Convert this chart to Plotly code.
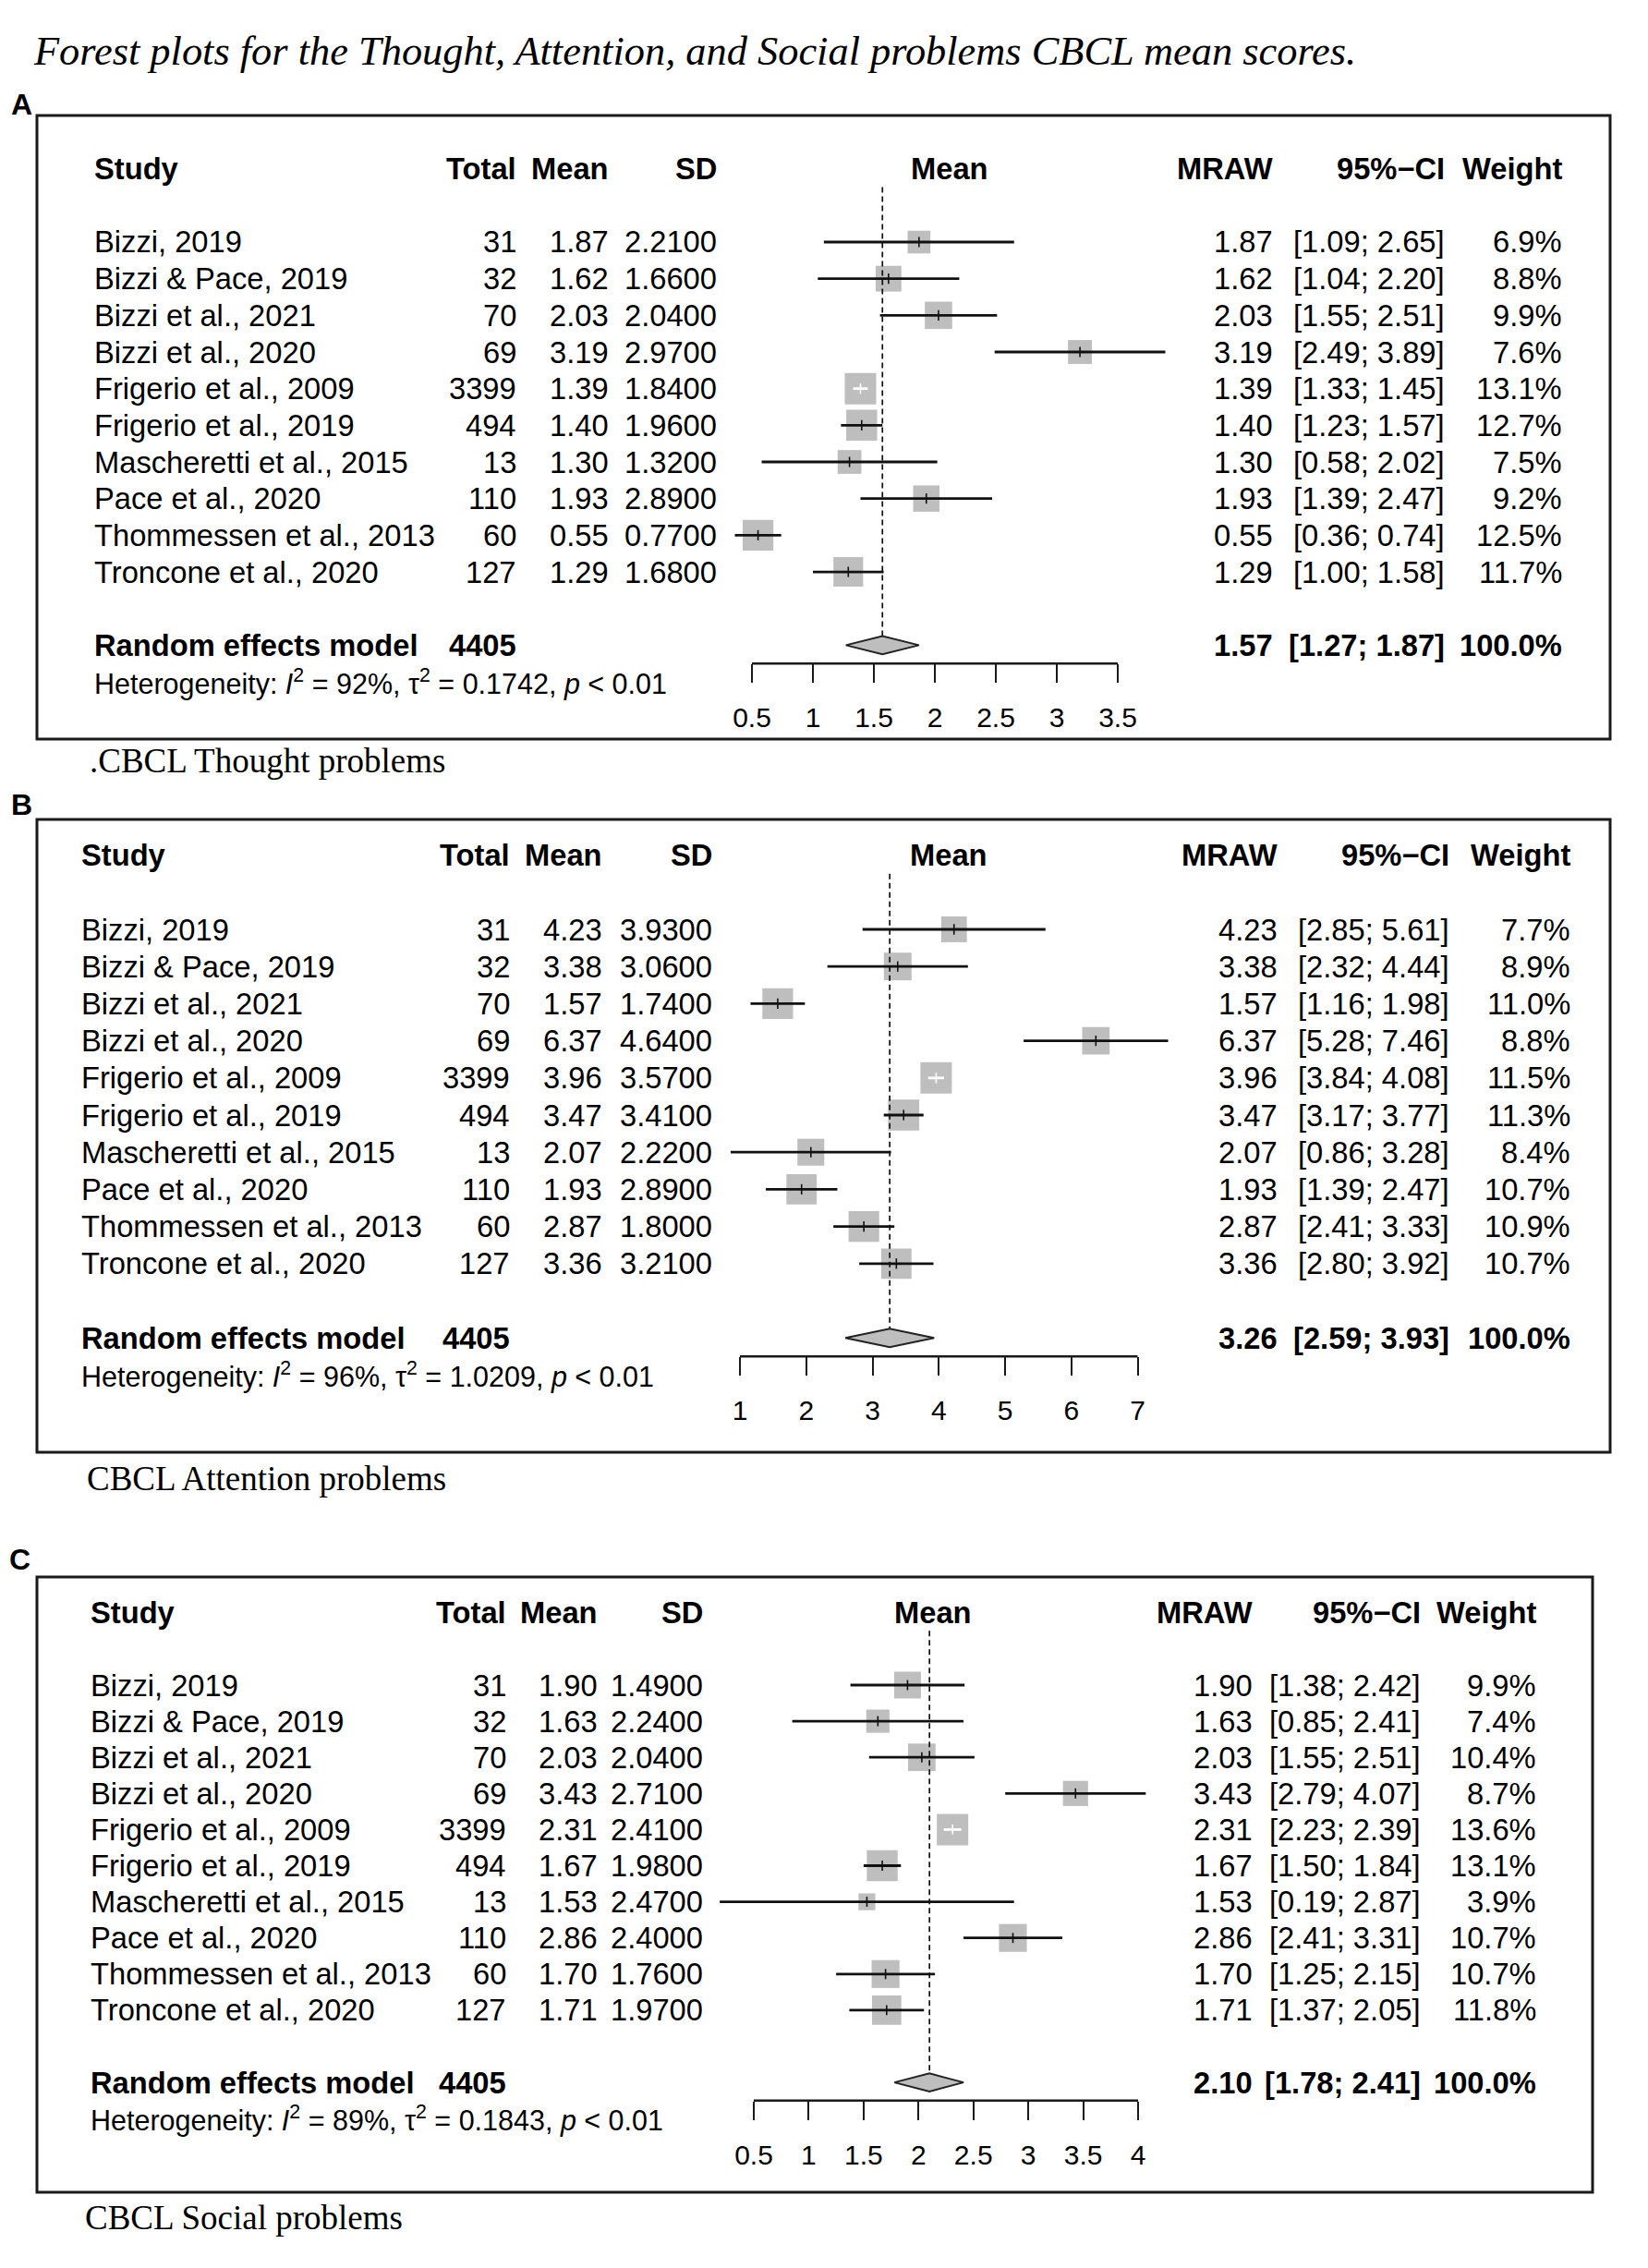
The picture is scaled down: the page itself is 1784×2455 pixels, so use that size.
import math
import plotly.graph_objects as go

W, H = 1784, 2455

# ---------------- data ----------------
studies = ["Bizzi, 2019", "Bizzi & Pace, 2019", "Bizzi et al., 2021", "Bizzi et al., 2020",
           "Frigerio et al., 2009", "Frigerio et al., 2019", "Mascheretti et al., 2015",
           "Pace et al., 2020", "Thommessen et al., 2013", "Troncone et al., 2020"]
total = [31, 32, 70, 69, 3399, 494, 13, 110, 60, 127]
re_total = 4405

thought_mean = [1.87, 1.62, 2.03, 3.19, 1.39, 1.40, 1.30, 1.93, 0.55, 1.29]
thought_sd = [2.21, 1.66, 2.04, 2.97, 1.84, 1.96, 1.32, 2.89, 0.77, 1.68]
thought_lo = [1.09, 1.04, 1.55, 2.49, 1.33, 1.23, 0.58, 1.39, 0.36, 1.00]
thought_hi = [2.65, 2.20, 2.51, 3.89, 1.45, 1.57, 2.02, 2.47, 0.74, 1.58]
thought_w = [6.9, 8.8, 9.9, 7.6, 13.1, 12.7, 7.5, 9.2, 12.5, 11.7]
thought_re = [1.57, 1.27, 1.87]
thought_het = ["92%", "0.1742"]
thought_ticks = [0.5, 1, 1.5, 2, 2.5, 3, 3.5]
thought_ticklabels = ["0.5", "1", "1.5", "2", "2.5", "3", "3.5"]

attention_mean = [4.23, 3.38, 1.57, 6.37, 3.96, 3.47, 2.07, 1.93, 2.87, 3.36]
attention_sd = [3.93, 3.06, 1.74, 4.64, 3.57, 3.41, 2.22, 2.89, 1.80, 3.21]
attention_lo = [2.85, 2.32, 1.16, 5.28, 3.84, 3.17, 0.86, 1.39, 2.41, 2.80]
attention_hi = [5.61, 4.44, 1.98, 7.46, 4.08, 3.77, 3.28, 2.47, 3.33, 3.92]
attention_w = [7.7, 8.9, 11.0, 8.8, 11.5, 11.3, 8.4, 10.7, 10.9, 10.7]
attention_re = [3.26, 2.59, 3.93]
attention_het = ["96%", "1.0209"]
attention_ticks = [1, 2, 3, 4, 5, 6, 7]
attention_ticklabels = ["1", "2", "3", "4", "5", "6", "7"]

social_mean = [1.90, 1.63, 2.03, 3.43, 2.31, 1.67, 1.53, 2.86, 1.70, 1.71]
social_sd = [1.49, 2.24, 2.04, 2.71, 2.41, 1.98, 2.47, 2.40, 1.76, 1.97]
social_lo = [1.38, 0.85, 1.55, 2.79, 2.23, 1.50, 0.19, 2.41, 1.25, 1.37]
social_hi = [2.42, 2.41, 2.51, 4.07, 2.39, 1.84, 2.87, 3.31, 2.15, 2.05]
social_w = [9.9, 7.4, 10.4, 8.7, 13.6, 13.1, 3.9, 10.7, 10.7, 11.8]
social_re = [2.10, 1.78, 2.41]
social_het = ["89%", "0.1843"]
social_ticks = [0.5, 1, 1.5, 2, 2.5, 3, 3.5, 4]
social_ticklabels = ["0.5", "1", "1.5", "2", "2.5", "3", "3.5", "4"]

title_text = "Forest plots for the Thought, Attention, and Social problems CBCL mean scores."

# ---------------- layout constants ----------------
SANS = "Liberation Sans, Arial, Helvetica, sans-serif"
SERIF = "Liberation Serif, Times New Roman, serif"
FS = 32.7
OFF = 8  # default page body margin of the exported html

panels = [
    dict(letter="A", caption=".CBCL Thought problems",
         mean=thought_mean, sd=thought_sd, lo=thought_lo, hi=thought_hi, w=thought_w,
         re=thought_re, het=thought_het, ticks=thought_ticks, ticklabels=thought_ticklabels,
         y0=262, dy=39.67, v0=0.5, p0=814, unit=132.0,
         box=(40, 125, 1743, 800), letter_xy=(10, 113), cap_xy=(95, 823),
         cols=dict(study=100, total=561, mean=661, sd=778, head=1028, mraw=1380, ci=1566, wt=1693)),
    dict(letter="B", caption="CBCL Attention problems",
         mean=attention_mean, sd=attention_sd, lo=attention_lo, hi=attention_hi, w=attention_w,
         re=attention_re, het=attention_het, ticks=attention_ticks, ticklabels=attention_ticklabels,
         y0=1006, dy=40.2, v0=1.0, p0=801, unit=71.75,
         box=(40, 887, 1743, 1572), letter_xy=(10, 871), cap_xy=(92, 1600),
         cols=dict(study=86, total=554, mean=654, sd=773, head=1027, mraw=1385, ci=1571, wt=1702)),
    dict(letter="C", caption="CBCL Social problems",
         mean=social_mean, sd=social_sd, lo=social_lo, hi=social_hi, w=social_w,
         re=social_re, het=social_het, ticks=social_ticks, ticklabels=social_ticklabels,
         y0=1824, dy=39.1, v0=0.5, p0=816, unit=118.86,
         box=(40, 1707, 1724, 2373), letter_xy=(8, 1688), cap_xy=(90, 2400),
         cols=dict(study=96, total=550, mean=649, sd=763, head=1010, mraw=1358, ci=1540, wt=1665)),
]


def fx(px):
    return (px - OFF) / W


def fy(py):
    return 1 - (py - OFF) / H


fig = go.Figure()
annotations = []
shapes = []
layout_axes = {}

XL, XR = 650, 1300
MAXBOX = 34.0
TOPIDX, BOTIDX = -3, 15

for k, p in enumerate(panels, start=1):
    xa = "x" if k == 1 else f"x{k}"
    ya = "y" if k == 1 else f"y{k}"
    y0, dy = p["y0"], p["dy"]
    rows = list(range(1, len(studies) + 1))
    wmax = max(p["w"])
    sizes = [MAXBOX * math.sqrt(w / wmax) for w in p["w"]]

    # squares
    fig.add_trace(go.Scatter(x=p["mean"], y=rows, mode="markers", xaxis=xa, yaxis=ya,
                             marker=dict(symbol="square", size=sizes, color="#BEBEBE",
                                         opacity=1, line=dict(width=0)),
                             hoverinfo="skip", showlegend=False))
    # CI lines and estimate ticks
    for color, inside_flag in (("#111111", False), ("white", True)):
        cx, cy, tx, ty = [], [], [], []
        for r, m, lo, hi, s in zip(rows, p["mean"], p["lo"], p["hi"], sizes):
            inside = (hi - lo) * p["unit"] < s
            if inside != inside_flag:
                continue
            cx += [lo, hi, None]
            cy += [r, r, None]
            tx += [m, m, None]
            ty += [r - 0.14, r + 0.14, None]
        if cx:
            fig.add_trace(go.Scatter(x=cx, y=cy, mode="lines", xaxis=xa, yaxis=ya,
                                     line=dict(color=color, width=2.8),
                                     hoverinfo="skip", showlegend=False))
            fig.add_trace(go.Scatter(x=tx, y=ty, mode="lines", xaxis=xa, yaxis=ya,
                                     line=dict(color=color, width=1.6),
                                     hoverinfo="skip", showlegend=False))
    est, rlo, rhi = p["re"]
    re_row = 12
    # dashed reference line at pooled estimate
    fig.add_trace(go.Scatter(x=[est, est], y=[-0.5, re_row - 0.25], mode="lines",
                             xaxis=xa, yaxis=ya,
                             line=dict(color="#111111", width=1.7, dash="6px,4px"),
                             hoverinfo="skip", showlegend=False))
    # diamond
    fig.add_trace(go.Scatter(x=[rlo, est, rhi, est, rlo],
                             y=[re_row, re_row - 0.25, re_row, re_row + 0.25, re_row],
                             mode="lines", fill="toself", fillcolor="#BEBEBE",
                             xaxis=xa, yaxis=ya, line=dict(color="#222222", width=2),
                             hoverinfo="skip", showlegend=False))
    # axis line between first and last tick
    fig.add_trace(go.Scatter(x=[p["ticks"][0], p["ticks"][-1]], y=[12.5, 12.5],
                             mode="lines", xaxis=xa, yaxis=ya,
                             line=dict(color="#1a1a1a", width=2.5),
                             hoverinfo="skip", showlegend=False))

    top_px = y0 + (TOPIDX - 1) * dy
    bot_px = y0 + (BOTIDX - 1) * dy
    xkey = "xaxis" if k == 1 else f"xaxis{k}"
    ykey = "yaxis" if k == 1 else f"yaxis{k}"
    layout_axes[xkey] = dict(
        domain=[fx(XL), fx(XR)],
        range=[p["v0"] + (XL - p["p0"]) / p["unit"], p["v0"] + (XR - p["p0"]) / p["unit"]],
        anchor="free", position=fy(y0 + 11.5 * dy),
        tickmode="array", tickvals=p["ticks"], ticktext=p["ticklabels"],
        ticks="outside", ticklen=round(dy / 2), tickwidth=2, tickcolor="#1a1a1a",
        showline=False, showgrid=False, zeroline=False,
        tickfont=dict(family=SANS, size=30, color="black"),
        ticklabelstandoff=12, fixedrange=True,
    )
    layout_axes[ykey] = dict(domain=[fy(bot_px), fy(top_px)], range=[BOTIDX, TOPIDX],
                             visible=False, anchor=xa, fixedrange=True)

    c = p["cols"]

    def ann(text, xpx, row, anchor="right", size=FS, bold=False, font=SANS):
        t = f"<b>{text}</b>" if bold else text
        annotations.append(dict(text=t, x=fx(xpx), y=row, xref="paper", yref=ya,
                                xanchor=anchor, yanchor="middle", showarrow=False,
                                font=dict(family=font, size=size, color="black")))

    # header
    ann("Study", c["study"], -1, "left", bold=True)
    ann("Total", c["total"], -1, bold=True)
    ann("Mean", c["mean"], -1, bold=True)
    ann("SD", c["sd"], -1, bold=True)
    ann("Mean", c["head"], -1, "center", bold=True)
    ann("MRAW", c["mraw"], -1, bold=True)
    ann("95%\u2212CI", c["ci"], -1, bold=True)
    ann("Weight", c["wt"], -1, bold=True)

    for r, s, n, m, sd, lo, hi, w in zip(rows, studies, total, p["mean"], p["sd"],
                                         p["lo"], p["hi"], p["w"]):
        ann(s, c["study"], r, "left")
        ann(str(n), c["total"], r)
        ann(f"{m:.2f}", c["mean"], r)
        ann(f"{sd:.4f}", c["sd"], r)
        ann(f"{m:.2f}", c["mraw"], r)
        ann(f"[{lo:.2f}; {hi:.2f}]", c["ci"], r)
        ann(f"{w:.1f}%", c["wt"], r)

    ann("Random effects model", c["study"], re_row, "left", bold=True)
    ann(str(re_total), c["total"], re_row, bold=True)
    ann(f"{est:.2f}", c["mraw"], re_row, bold=True)
    ann(f"[{rlo:.2f}; {rhi:.2f}]", c["ci"], re_row, bold=True)
    ann("100.0%", c["wt"], re_row, bold=True)
    het = (f"Heterogeneity: <i>I</i><sup>2</sup> = {p['het'][0]}, \u03c4<sup>2</sup> = "
           f"{p['het'][1]}, <i>p</i> &lt; 0.01")
    ann(het, c["study"], re_row + 1, "left", size=30.5)

    # box
    bl, bt, br, bb = p["box"]
    shapes.append(dict(type="rect", xref="paper", yref="paper",
                       x0=fx(bl), x1=fx(br), y0=fy(bb), y1=fy(bt),
                       line=dict(color="#1a1a1a", width=3), fillcolor="rgba(0,0,0,0)",
                       layer="below"))
    # panel letter
    lx, ly = p["letter_xy"]
    annotations.append(dict(text=f"<b>{p['letter']}</b>", x=fx(lx), y=fy(ly),
                            xref="paper", yref="paper", xanchor="left", yanchor="middle",
                            showarrow=False, font=dict(family=SANS, size=32, color="black")))
    # caption
    cx_, cy_ = p["cap_xy"]
    annotations.append(dict(text=p["caption"], x=fx(cx_), y=fy(cy_),
                            xref="paper", yref="paper", xanchor="left", yanchor="middle",
                            showarrow=False, font=dict(family=SERIF, size=37, color="black")))

# title
annotations.append(dict(text=f"<i>{title_text}</i>", x=fx(34), y=fy(55),
                        xref="paper", yref="paper", xanchor="left", yanchor="middle",
                        showarrow=False, font=dict(family=SERIF, size=44.4, color="black")))

fig.update_layout(
    width=W, height=H,
    margin=dict(l=0, r=0, t=0, b=0),
    paper_bgcolor="white", plot_bgcolor="white",
    showlegend=False,
    annotations=annotations,
    shapes=shapes,
    **layout_axes,
)

fig.write_html("out.html", config={"displayModeBar": False})
